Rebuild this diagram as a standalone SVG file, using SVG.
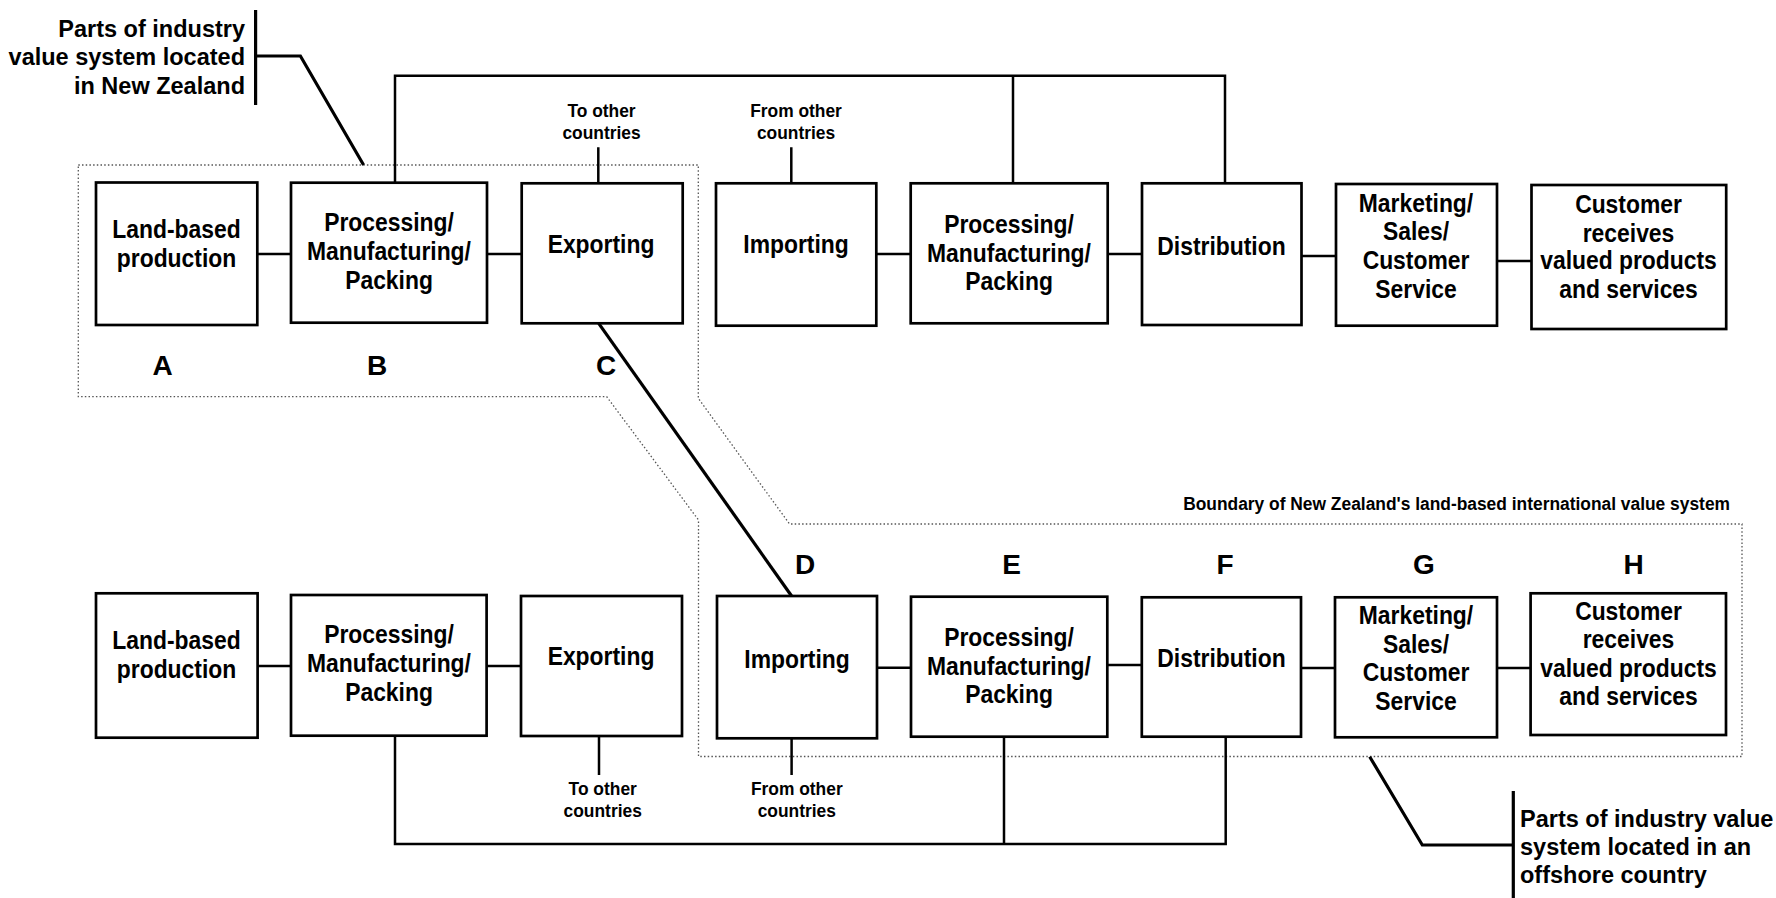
<svg xmlns="http://www.w3.org/2000/svg" width="1776" height="898" viewBox="0 0 1776 898">
  <style>
    .box { fill: #fff; stroke: #000; stroke-width: 2.7; }
    .ln { fill: none; stroke: #000; stroke-width: 2.5; }
    .call { fill: none; stroke: #000; stroke-width: 3.2; }
    .bd { fill: none; stroke: #555; stroke-width: 1.3; stroke-dasharray: 1.5 2.2; }
    text { font-family: "Liberation Sans", Arial, Helvetica, sans-serif; font-weight: bold; fill: #000; }
    .t { font-size: 25px; text-anchor: middle; }
    .s { font-size: 19px; text-anchor: middle; }
    .lab { font-size: 28px; text-anchor: middle; }
    .co { font-size: 23.5px; }
  </style>
  <rect width="1776" height="898" fill="#fff"/>

  <!-- boundary of the land-based international value system -->
  <g id="boundary">
    <path class="bd" d="M78.3,165 H698.3 V398.3 L789.5,524 H1742 V756.5 H698.5 V520 L606.7,396.7 H78.3 Z"/>
    <text class="s" transform="translate(1730 0) scale(0.915 1)" x="0" y="510" style="text-anchor:end">Boundary of New Zealand's land-based international value system</text>
  </g>

  <!-- connectors -->
  <g id="connectors">
    <!-- upper chain -->
    <path class="ln" d="M257.3,254 H291 M487,254 H521.7 M876.3,254 H910.7 M1107.6,254 H1142 M1301.5,256 H1336 M1497,261 H1531.5"/>
    <path class="ln" d="M395,182.7 V75.7 H1225 V183.3 M1013,75.7 V183.3"/>
    <path class="ln" d="M598.3,147.3 V183.3 M791.3,147.3 V183.3"/>
    <!-- lower chain -->
    <path class="ln" d="M257.6,666 H291 M486.6,666 H521 M877,667.7 H911 M1107.3,665 H1141.8 M1301,668 H1335 M1497,668 H1530.6"/>
    <path class="ln" d="M395,735.7 V844 H1225.7 V736.7 M1004,736.7 V844"/>
    <path class="ln" d="M599,736 V775 M791.6,738.3 V775"/>
    <!-- export to import link -->
    <path class="call" d="M598.7,323.3 L791.6,596"/>
    <!-- callouts -->
    <path class="call" d="M255.6,10 V105 M255.6,56 H300.4 L363.6,165"/>
    <path class="call" d="M1369.7,756.7 L1422.3,845 H1513.3 M1513.3,791 V898"/>
  </g>

  <!-- flow annotations -->
  <g id="flow-notes">
    <text class="s" transform="translate(601.5 0) scale(0.915 1)"><tspan x="0" y="116.7">To other</tspan><tspan x="0" y="139.3">countries</tspan></text>
    <text class="s" transform="translate(796 0) scale(0.915 1)"><tspan x="0" y="116.7">From other</tspan><tspan x="0" y="139.3">countries</tspan></text>
    <text class="s" transform="translate(602.7 0) scale(0.915 1)"><tspan x="0" y="795">To other</tspan><tspan x="0" y="817.3">countries</tspan></text>
    <text class="s" transform="translate(796.8 0) scale(0.915 1)"><tspan x="0" y="795">From other</tspan><tspan x="0" y="817.3">countries</tspan></text>
  </g>

  <!-- callout labels -->
  <g id="callout-nz">
    <text class="co" text-anchor="end"><tspan x="245" y="36.5">Parts of industry</tspan><tspan x="245" y="65">value system located</tspan><tspan x="245" y="94">in New Zealand</tspan></text>
  </g>
  <g id="callout-offshore">
    <text class="co"><tspan x="1520" y="827">Parts of industry value</tspan><tspan x="1520" y="855">system located in an</tspan><tspan x="1520" y="882.5">offshore country</tspan></text>
  </g>

  <!-- upper chain: value system in New Zealand -->
  <g id="nz-land">
    <rect class="box" x="96" y="182.5" width="161.3" height="142.5"/>
    <text class="t" transform="translate(176.5 0) scale(0.915 1)"><tspan x="0" y="238.3">Land-based</tspan><tspan x="0" y="266.7">production</tspan></text>
    <text class="lab" x="162.7" y="375">A</text>
  </g>
  <g id="nz-processing">
    <rect class="box" x="291" y="182.7" width="196" height="140"/>
    <text class="t" transform="translate(389 0) scale(0.915 1)"><tspan x="0" y="231.5">Processing/</tspan><tspan x="0" y="260.5">Manufacturing/</tspan><tspan x="0" y="289.3">Packing</tspan></text>
    <text class="lab" x="377" y="375">B</text>
  </g>
  <g id="nz-exporting">
    <rect class="box" x="521.7" y="183.3" width="161" height="140"/>
    <text class="t" transform="translate(601 0) scale(0.915 1)" x="0" y="253.3">Exporting</text>
    <text class="lab" x="606" y="375">C</text>
  </g>
  <g id="nz-importing">
    <rect class="box" x="716" y="183.3" width="160.3" height="142.4"/>
    <text class="t" transform="translate(796 0) scale(0.915 1)" x="0" y="252.7">Importing</text>
  </g>
  <g id="nz-processing-2">
    <rect class="box" x="910.7" y="183.3" width="197" height="140"/>
    <text class="t" transform="translate(1009 0) scale(0.915 1)"><tspan x="0" y="233.3">Processing/</tspan><tspan x="0" y="262.3">Manufacturing/</tspan><tspan x="0" y="290.5">Packing</tspan></text>
  </g>
  <g id="nz-distribution">
    <rect class="box" x="1142" y="183.3" width="159.5" height="141.7"/>
    <text class="t" transform="translate(1221.5 0) scale(0.915 1)" x="0" y="255.3">Distribution</text>
  </g>
  <g id="nz-marketing">
    <rect class="box" x="1336" y="184" width="161" height="141.7"/>
    <text class="t" transform="translate(1416 0) scale(0.915 1)"><tspan x="0" y="211.7">Marketing/</tspan><tspan x="0" y="240.5">Sales/</tspan><tspan x="0" y="269.3">Customer</tspan><tspan x="0" y="297.7">Service</tspan></text>
  </g>
  <g id="nz-customer">
    <rect class="box" x="1531.5" y="185" width="194.7" height="144"/>
    <text class="t" transform="translate(1628.5 0) scale(0.915 1)"><tspan x="0" y="213.3">Customer</tspan><tspan x="0" y="241.7">receives</tspan><tspan x="0" y="269.5">valued products</tspan><tspan x="0" y="298.3">and services</tspan></text>
  </g>

  <!-- lower chain: value system in an offshore country -->
  <g id="off-land">
    <rect class="box" x="96" y="593.3" width="161.6" height="144.4"/>
    <text class="t" transform="translate(176.5 0) scale(0.915 1)"><tspan x="0" y="649.3">Land-based</tspan><tspan x="0" y="677.7">production</tspan></text>
  </g>
  <g id="off-processing">
    <rect class="box" x="291" y="595" width="195.6" height="140.7"/>
    <text class="t" transform="translate(389 0) scale(0.915 1)"><tspan x="0" y="643">Processing/</tspan><tspan x="0" y="672.3">Manufacturing/</tspan><tspan x="0" y="701.5">Packing</tspan></text>
  </g>
  <g id="off-exporting">
    <rect class="box" x="521" y="596" width="161" height="140"/>
    <text class="t" transform="translate(601 0) scale(0.915 1)" x="0" y="665">Exporting</text>
  </g>
  <g id="off-importing">
    <rect class="box" x="717" y="596" width="160" height="142.3"/>
    <text class="t" transform="translate(797 0) scale(0.915 1)" x="0" y="667.7">Importing</text>
    <text class="lab" x="805" y="573.5">D</text>
  </g>
  <g id="off-processing-2">
    <rect class="box" x="911" y="596.7" width="196.3" height="140"/>
    <text class="t" transform="translate(1009 0) scale(0.915 1)"><tspan x="0" y="645.7">Processing/</tspan><tspan x="0" y="675">Manufacturing/</tspan><tspan x="0" y="703.3">Packing</tspan></text>
    <text class="lab" x="1011.7" y="573.5">E</text>
  </g>
  <g id="off-distribution">
    <rect class="box" x="1141.8" y="597.3" width="159.2" height="139.4"/>
    <text class="t" transform="translate(1221.5 0) scale(0.915 1)" x="0" y="666.7">Distribution</text>
    <text class="lab" x="1225" y="573.5">F</text>
  </g>
  <g id="off-marketing">
    <rect class="box" x="1335" y="597.3" width="162" height="140"/>
    <text class="t" transform="translate(1416 0) scale(0.915 1)"><tspan x="0" y="624">Marketing/</tspan><tspan x="0" y="652.7">Sales/</tspan><tspan x="0" y="681.5">Customer</tspan><tspan x="0" y="710">Service</tspan></text>
    <text class="lab" x="1424" y="573.5">G</text>
  </g>
  <g id="off-customer">
    <rect class="box" x="1530.6" y="593.3" width="195.4" height="141.7"/>
    <text class="t" transform="translate(1628.5 0) scale(0.915 1)"><tspan x="0" y="620">Customer</tspan><tspan x="0" y="648.3">receives</tspan><tspan x="0" y="676.7">valued products</tspan><tspan x="0" y="705">and services</tspan></text>
    <text class="lab" x="1633.5" y="573.5">H</text>
  </g>
</svg>
